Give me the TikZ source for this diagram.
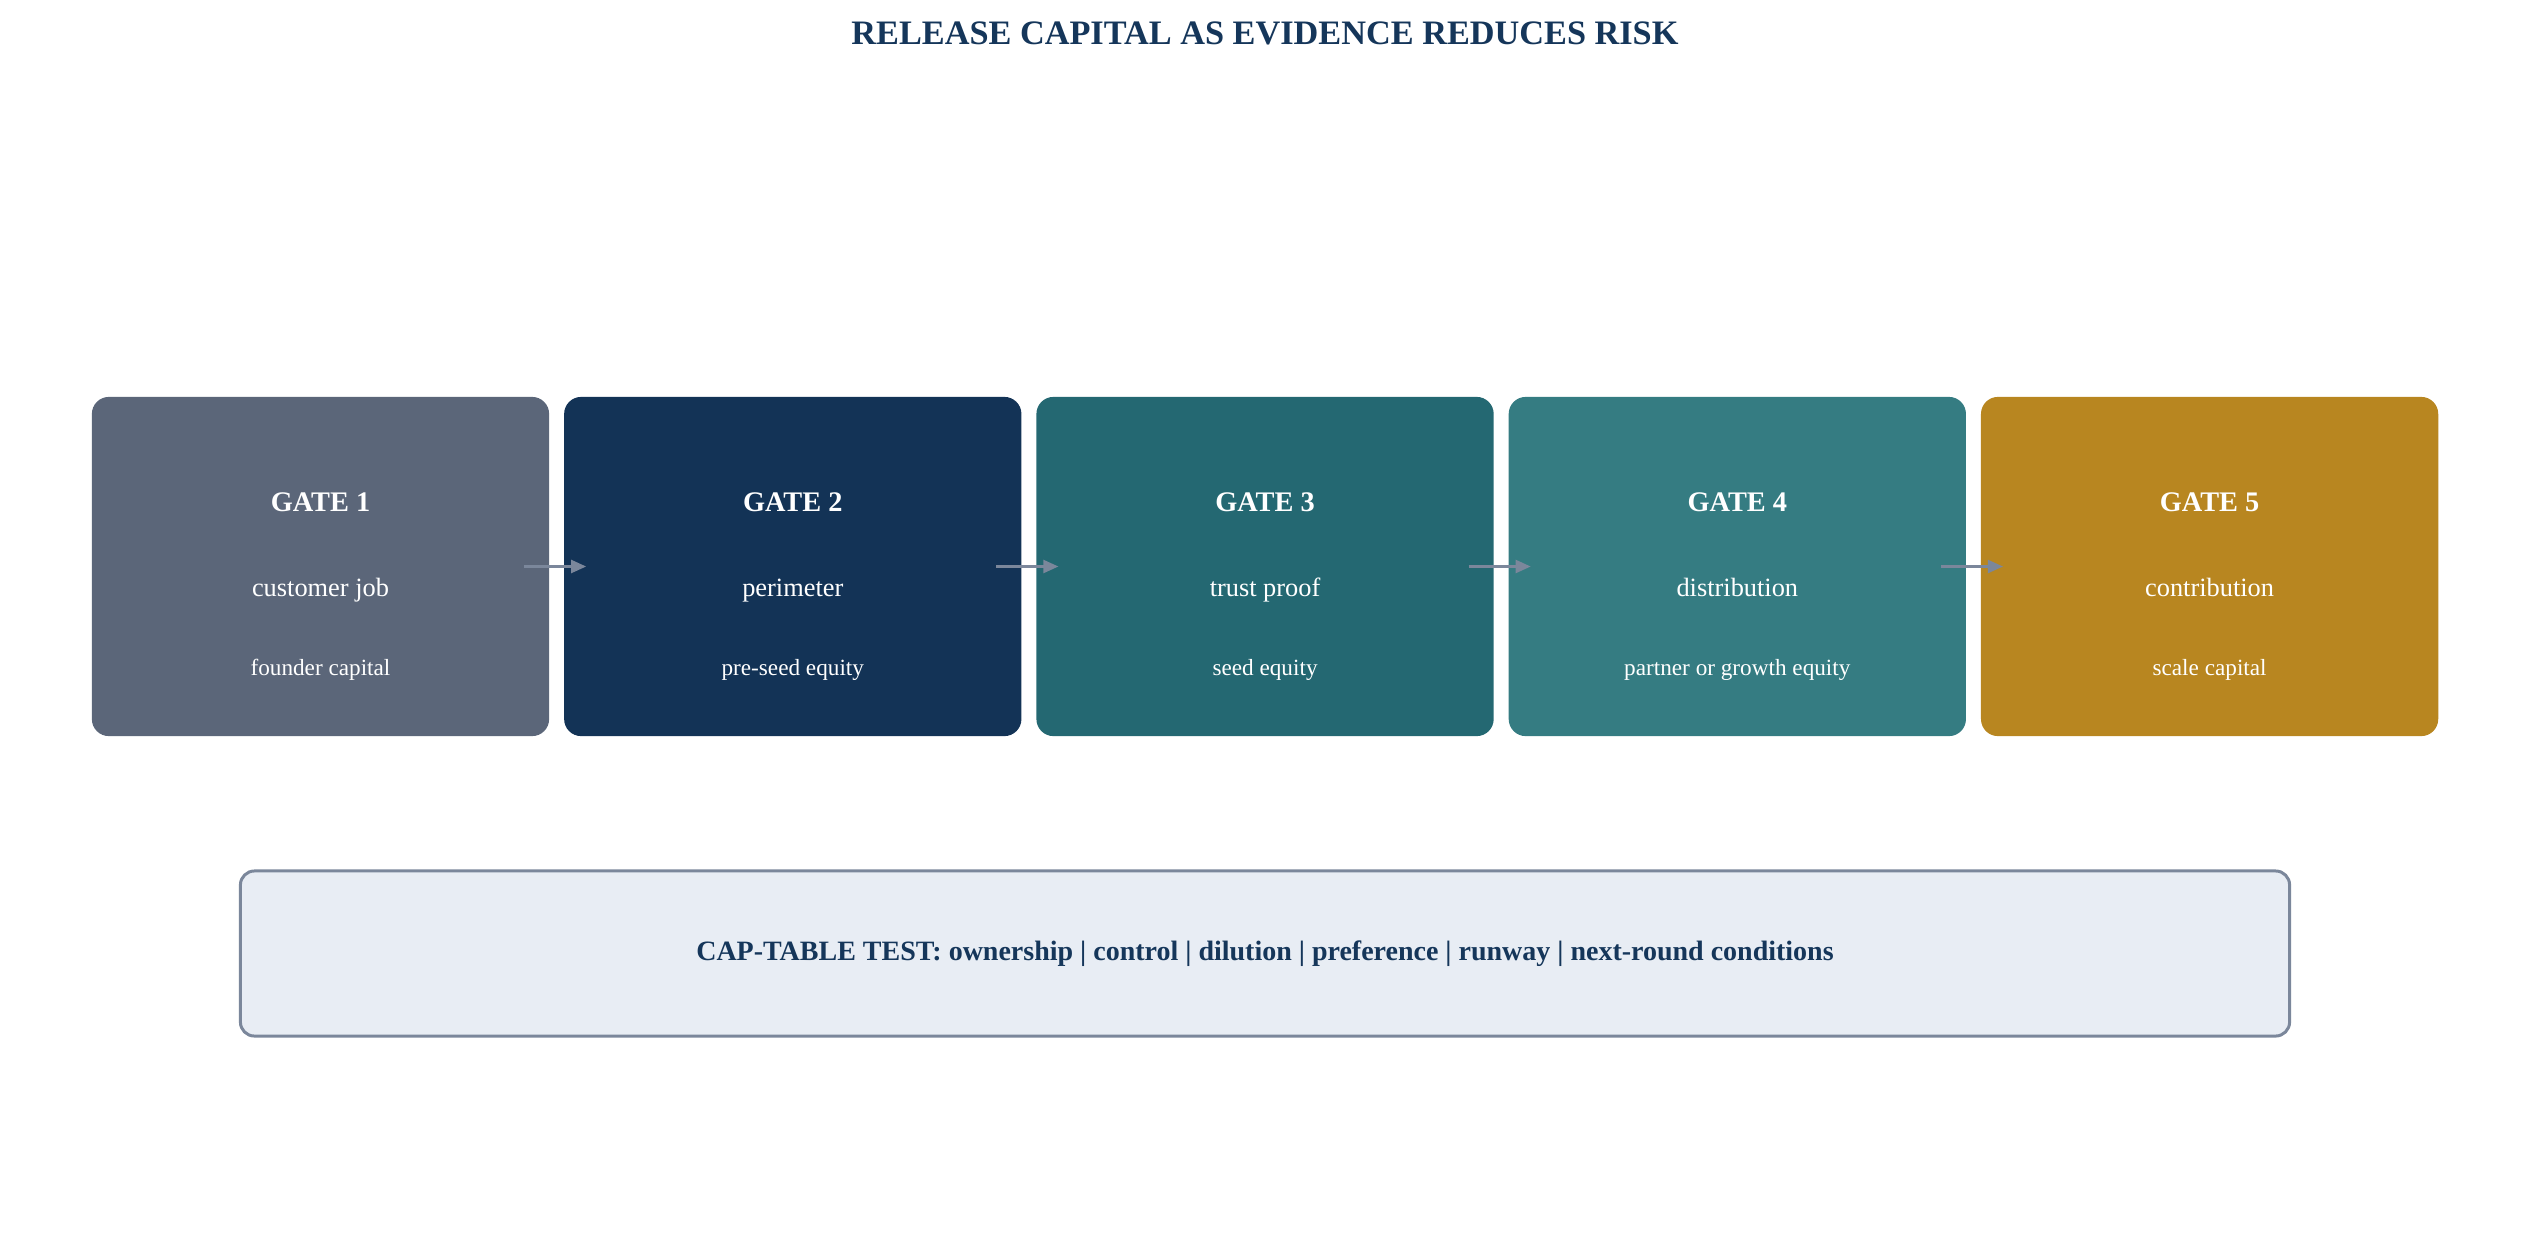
\documentclass[tikz,border=0pt]{standalone}
\usepackage{fontspec}
\setmainfont{Liberation Serif}
\usepackage{tikz}
\usetikzlibrary{positioning}
\usetikzlibrary{arrows.meta}
\usetikzlibrary{calc}

\definecolor{gate1}{HTML}{5B6679}
\definecolor{gate2}{HTML}{133356}
\definecolor{gate3}{HTML}{246872}
\definecolor{gate4}{HTML}{357C82}
\definecolor{gate5}{HTML}{B88620}
\definecolor{navy}{HTML}{15365A}
\definecolor{slate}{HTML}{7B879B}
\definecolor{mist}{HTML}{E8EDF4}

\tikzset{
  gatebox/.style={rectangle, rounded corners=0.17cm, minimum width=4.57cm, minimum height=3.39cm, inner sep=0pt, outer sep=0pt},
  gatehead/.style={anchor=base, text=white, font=\fontsize{8.06pt}{10pt}\selectfont\bfseries},
  gatejob/.style={anchor=base, text=white, font=\fontsize{7.5pt}{9pt}\selectfont},
  gatecap/.style={anchor=base, text=white, font=\fontsize{6.6pt}{8pt}\selectfont},
  flowarrow/.style={draw=slate, line width=0.7pt, -{Triangle[length=4.3pt,width=3.7pt]}, shorten <=-0.25cm, shorten >=-0.22cm},
  testbox/.style={draw=slate, fill=mist, line width=0.85pt, rounded corners=0.14cm, minimum width=20.48cm, minimum height=1.65cm, text=navy, font=\fontsize{7.96pt}{10pt}\selectfont\bfseries}
}

\begin{document}
\begin{tikzpicture}[x=0.01cm, y=-0.01cm]
  \useasboundingbox (0,0) rectangle (2530,1254);

  % title
  \node[anchor=base, text=navy, font=\fontsize{9.75pt}{11pt}\selectfont\bfseries] (title) at (1265,44) {RELEASE CAPITAL AS EVIDENCE REDUCES RISK};

  % the five gates, side by side
  \node[gatebox, fill=gate1] (g1) at (320.5,566.5) {};
  \foreach \i/\j in {1/2,2/3,3/4,4/5}
    {\node[gatebox, fill=gate\j, right=0.15cm of g\i] (g\j) {};}

  \foreach \i/\what/\money in {1/customer job/founder capital, 2/perimeter/pre-seed equity, 3/trust proof/seed equity, 4/distribution/partner or growth equity, 5/contribution/scale capital}
    {\node[gatehead] (h\i) at ($(g\i.center)+(0,-55.5)$) {GATE \i};
     \node[gatejob] (j\i) at ($(g\i.center)+(0,29.5)$) {\what};
     \node[gatecap] (c\i) at ($(g\i.center)+(0,108.5)$) {\money};}

  \foreach \i/\j in {1/2,2/3,3/4,4/5}
    {\draw[flowarrow] (g\i.east) -- (g\j.west);}

  % cap-table test bar
  \node[testbox] (captest) at (1265,953.5) {CAP-TABLE TEST: ownership | control | dilution | preference | runway | next-round conditions};
\end{tikzpicture}
\end{document}
